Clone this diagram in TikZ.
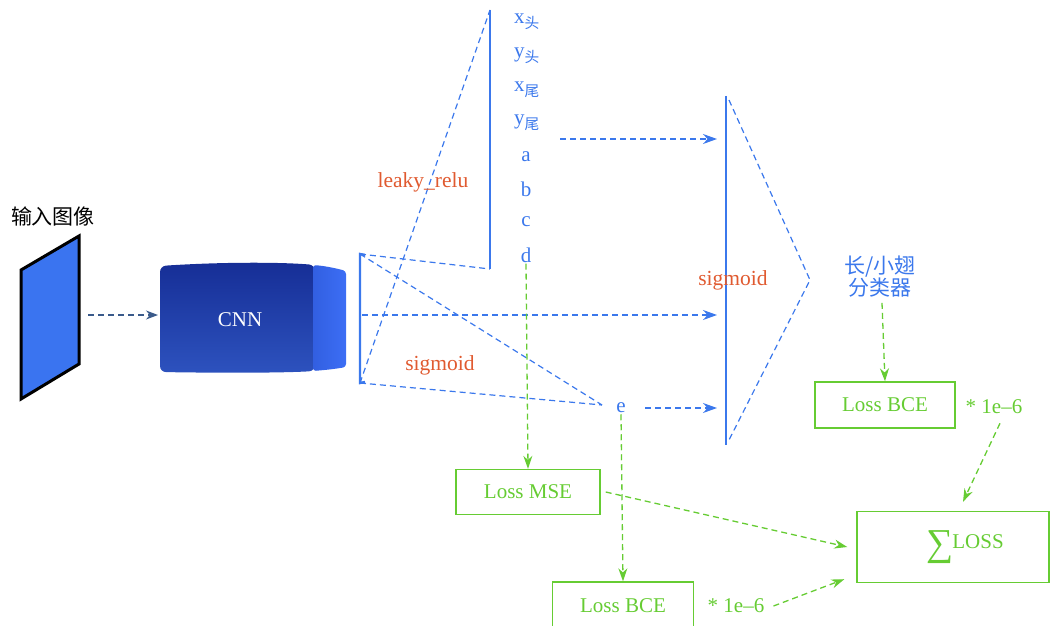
\documentclass[tikz,border=0pt]{standalone}
\usepackage{fontspec}
\setmainfont{Liberation Serif}
\newfontfamily\cjk{Noto Sans CJK SC}
\usetikzlibrary{arrows.meta,calc}
\definecolor{bl}{HTML}{3B78EC}
\definecolor{gr}{HTML}{66CC33}
\definecolor{org}{HTML}{E05A30}
\definecolor{arr}{HTML}{3A5A8A}
\tikzset{
  bline/.style={bl,line width=2.4pt},
  bdash/.style={bl,line width=1.2pt,dash pattern=on 6pt off 4pt},
  barrow/.style={bdash,-{Stealth[length=14pt,width=10pt]}},
  garrow/.style={gr,line width=1.3pt,dash pattern=on 6pt off 4pt,-{Stealth[length=13pt,width=9pt]}},
  gbox/.style={draw=gr,line width=1.4pt,text=gr,inner sep=0pt,font=\fontsize{21}{24}\selectfont},
  lab/.style={text=bl,font=\fontsize{21}{24}\selectfont,inner sep=1pt},
  olab/.style={text=org,font=\fontsize{21.5}{25}\selectfont,inner sep=1pt},
  gtxt/.style={text=gr,font=\fontsize{21}{24}\selectfont,inner sep=1pt},
}
\begin{document}
\begin{tikzpicture}[x=1pt,y=-1pt]
\useasboundingbox (0,0) rectangle (1050,626);
% input image
\node[font=\cjk\fontsize{21}{24}\selectfont] (title) at (53,216) {输入图像};
\draw[fill={rgb,255:red,58;green,116;blue,240},line width=3pt,line join=miter] (21,270) -- (79,236) -- (79,364) -- (21,399) -- cycle;
\coordinate (imgout) at (88,315);
% CNN block
\shade[top color={rgb,255:red,22;green,46;blue,150},bottom color={rgb,255:red,45;green,82;blue,190},rounded corners=6pt]
  (160,266) .. controls (220,262) and (280,262) .. (315,265) -- (315,371) .. controls (280,373) and (220,373) .. (160,372) -- cycle;
\shade[left color={rgb,255:red,50;green,95;blue,225},right color={rgb,255:red,60;green,110;blue,245},rounded corners=3pt]
  (313,265) .. controls (325,266) and (335,268) .. (346,271) -- (346,367) .. controls (335,369) and (325,370) .. (313,371) -- cycle;
\node[text=white,font=\fontsize{21}{24}\selectfont] (cnn) at (240,320) {CNN};
\coordinate (cnnin) at (158,315);
\draw[arr,line width=1.2pt,dash pattern=on 6pt off 4pt,-{Stealth[length=12pt,width=9pt]}] (imgout) -- (cnnin);
% bracket
\coordinate (brt) at (360,254);
\coordinate (brb) at (360,383);
\coordinate (brm) at (362,315);
\draw[bline] ($(brt)+(5,1)$) -- (brt) -- (brb) -- ($(brb)+(5,-1)$);
% upper vertical
\coordinate (vt) at (490,10);
\coordinate (vb) at (490,269);
\draw[bline] (vt) -- (vb);
\draw[bdash] (brt) -- (vb);
\draw[bdash] (brb) -- (vt);
% e
\node[lab] (e) at (621,408) {e};
\coordinate (ein) at (602,405);
\draw[bdash] (brt) -- (ein);
\draw[bdash] (brb) -- (ein);
% labels
\node[lab] (lx1) at (527,22) {x\textsubscript{\cjk 头}};
\node[lab] (ly1) at (527,56) {y\textsubscript{\cjk 头}};
\node[lab] (lx2) at (527,90) {x\textsubscript{\cjk 尾}};
\node[lab] (ly2) at (527,123) {y\textsubscript{\cjk 尾}};
\node[lab] (la) at (526,157) {a};
\node[lab] (lb) at (526,189) {b};
\node[lab] (lc) at (526,222) {c};
\node[lab] (ld) at (526,255) {d};
\node[olab] (lrelu) at (423,182) {leaky\_relu};
\node[olab] (sig1) at (440,365) {sigmoid};
% right vertical
\coordinate (rt) at (726,96);
\coordinate (rb) at (726,445);
\draw[bline] (rt) -- (rb);
\coordinate (tipr) at (810,280);
\draw[bdash] (729,100) -- (tipr) -- (729,440);
\node[olab] (sig2) at (733,280) {sigmoid};
% arrows into right vertical
\coordinate (a1s) at (560,139);
\coordinate (a1e) at (717,139);
\draw[barrow] (a1s) -- (a1e);
\coordinate (a2e) at (717,315);
\draw[barrow] (brm) -- (a2e);
\coordinate (a3s) at (645,408);
\coordinate (a3e) at (717,408);
\draw[barrow] (a3s) -- (a3e);
% classifier
\node[lab,font=\cjk\fontsize{21}{25}\selectfont,align=center] (cls) at (880,277) {长/小翅\\[-3pt]分类器};
% boxes
\node[gbox,minimum width=140pt,minimum height=46pt] (bce1) at (885,405) {Loss BCE};
\node[gtxt] (w1) at (994,407) {* 1e–6};
\node[gbox,minimum width=144pt,minimum height=45pt] (mse) at (528,492) {Loss MSE};
\node[gbox,minimum width=141pt,minimum height=48pt] (bce2) at (623,606) {Loss BCE};
\node[gtxt] (w2) at (736,606) {* 1e–6};
\node[gbox,minimum width=192pt,minimum height=71pt] (sum) at (953,547) {\kern24pt\raisebox{-7pt}{\fontsize{38}{38}\selectfont ∑}\kern-1pt LOSS};
% green arrows
\draw[garrow] ($(cls.south)+(2,4)$) -- (bce1.north);
\draw[garrow] ($(w1.south)+(6,8)$) -- ($(sum.north)+(10,-9)$);
\draw[garrow] (ld.south) -- (mse.north);
\draw[garrow] (e.south) -- (bce2.north);
\draw[garrow] ($(mse.east)+(5,0)$) -- ($(sum.west)+(-9,0)$);
\draw[garrow] ($(w2.east)+(8,0)$) -- ($(sum.south west)+(-12,-4)$);
\end{tikzpicture}
\end{document}
